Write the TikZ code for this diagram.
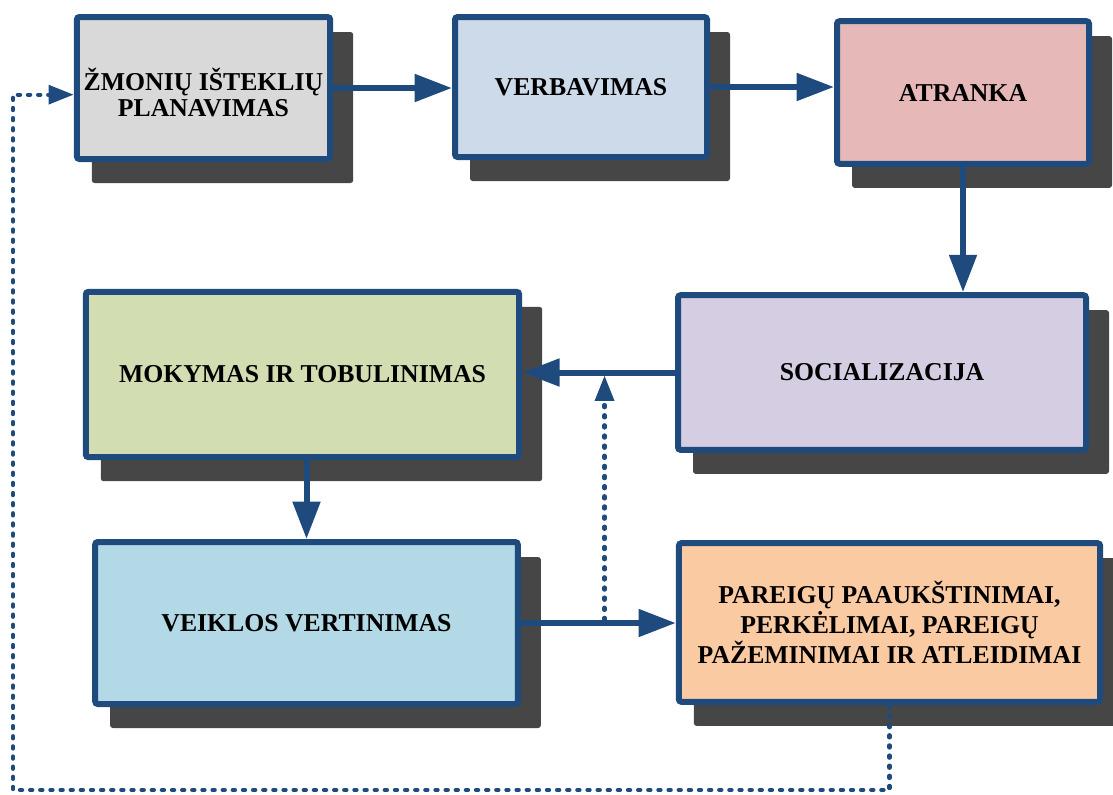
\documentclass[tikz,border=0pt]{standalone}
\usepackage{fontspec}
\setmainfont{Liberation Serif}
\usetikzlibrary{arrows.meta,backgrounds,calc}
\definecolor{bordc}{HTML}{1F4A7E}
\definecolor{shadowc}{HTML}{464646}
\definecolor{cA}{HTML}{D9D9D9}
\definecolor{cB}{HTML}{CDDAE9}
\definecolor{cC}{HTML}{E6B9B8}
\definecolor{cD}{HTML}{D5CDE2}
\definecolor{cE}{HTML}{D2DEB1}
\definecolor{cF}{HTML}{B2D9E5}
\definecolor{cG}{HTML}{FACBA3}
\tikzset{
  box/.style={draw=bordc, line width=4.5pt, rounded corners=2pt, align=center, text=black,
    font=\bfseries\fontsize{19.3}{19.5}\selectfont},
  flow/.style={draw=bordc, line width=4.5pt, -{Triangle[length=28pt,width=20pt]}},
  fb/.style={draw=bordc, line width=3.2pt, line cap=round, dash pattern=on 1.6pt off 6pt,
    -{Triangle[length=19pt,width=14pt]}},
  shadowbox/.style={fill=shadowc, rounded corners=2pt}
}
\begin{document}
\begin{tikzpicture}[x=0.75pt,y=-0.75pt]
\useasboundingbox (0,0) rectangle (1113,794);
\node[box, fill=cA, minimum width=190pt, minimum height=106.5pt] (b1) at (203.5,88)
  {\rule{0pt}{23pt}ŽMONIŲ IŠTEKLIŲ\\PLANAVIMAS};
\node[box, fill=cB, minimum width=189pt, minimum height=105pt] (b2) at (581,87) {VERBAVIMAS};
\node[box, fill=cC, minimum width=189pt, minimum height=107pt] (b3) at (963,92.5) {ATRANKA};
\node[box, fill=cD, minimum width=306pt, minimum height=116pt] (b4) at (882,372.5) {SOCIALIZACIJA};
\node[box, fill=cE, minimum width=325pt, minimum height=124pt] (b5) at (302.5,374.5) {MOKYMAS IR TOBULINIMAS};
\node[box, fill=cF, minimum width=317pt, minimum height=121.5pt] (b6) at (306.5,623) {VEIKLOS VERTINIMAS};
\node[box, fill=cG, minimum width=316pt, minimum height=119pt,
  font=\bfseries\fontsize{19.3}{22.5}\selectfont] (b7) at (889.5,622.5)
  {PAREIGŲ PAAUKŠTINIMAI,\\PERKĖLIMAI, PAREIGŲ\\PAŽEMINIMAI IR ATLEIDIMAI};
\begin{scope}[on background layer]
\foreach \n in {b1,b2,b3,b4,b5,b6,b7}
  \fill[shadowbox] ([shift={(18,18)}]\n.north west) rectangle ([shift={(20,21)}]\n.south east);
\end{scope}
\draw[flow] (b1.east) -- (b1.east -| b2.west);
\draw[flow] (b2.east) -- (b2.east -| b3.west);
\draw[flow] (b3.south) -- (b3.south |- b4.north);
\draw[flow] (b4.west) -- (b4.west -| b5.east);
\draw[flow] (b6.north |- b5.south) -- (b6.north);
\draw[flow] (b6.east) -- (b6.east -| b7.west);
\coordinate (j1) at ($(b6.east)!0.54!(b6.east -| b7.west)$);
\coordinate (j2) at (j1 |- b4.west);
\draw[fb] ([yshift=2.25pt]j1) -- ([yshift=-2.25pt]j2);
\coordinate (c1) at (13,790);
\draw[fb] (b7.south) |- (c1) |- ([yshift=-5pt]b1.west);
\end{tikzpicture}
\end{document}
